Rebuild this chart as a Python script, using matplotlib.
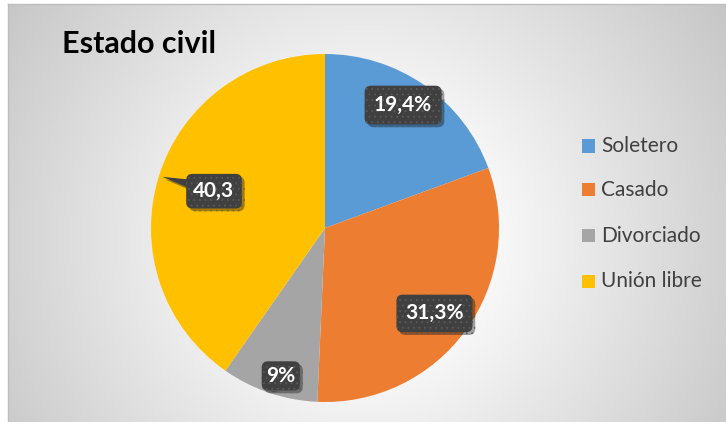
import numpy as np
import matplotlib
matplotlib.use("Agg")
import matplotlib.pyplot as plt
from matplotlib.patches import Rectangle, Polygon
import matplotlib.patheffects as pe

# ---- data ----
categories = ["Soletero", "Casado", "Divorciado", "Unión libre"]
values = [19.4, 31.3, 9.0, 40.3]
value_labels = ["19,4%", "31,3%", "9%", "40,3"]
colors = ["#5B9BD5", "#ED7D31", "#A5A5A5", "#FFC000"]
title = "Estado civil"

# ---- layout of the data labels (radius as fraction of pie, angle shift deg) ----
label_r = [0.837, 0.798, 0.887, 0.672]
label_dtheta = [2.5, -1.8, 2.1, -0.9]
label_pad = [0.45, 0.42, 0.22, 0.35]
# callout tails: (edge of box, start fraction, end fraction) or None
label_tail = [None, None, ("bottom", 0.16, 0.40), ("left", 0.60, 0.84)]

plt.rcParams["hatch.linewidth"] = 0.6

W, H, DPI = 726, 422, 100
fig = plt.figure(figsize=(W / DPI, H / DPI), dpi=DPI)
fig.patch.set_facecolor("white")

# chart-area background: radial grey gradient
bg = fig.add_axes([8 / W, 0, (W - 8) / W, (H - 4) / H], zorder=0)
yy, xx = np.mgrid[0:H - 4, 0:W - 8]
px = xx + 8
py = yy + 4
d = np.hypot(px - 363, py - 240) / 420.0
v = np.clip(270 - 70 * d, 0, 255) / 255.0
bg.imshow(np.dstack([v, v, v]), aspect="auto", interpolation="bilinear",
          extent=[0, 1, 0, 1], origin="upper")
bg.set_xticks([])
bg.set_yticks([])
for s in ("right", "bottom"):
    bg.spines[s].set_visible(False)
for s in ("top", "left"):
    bg.spines[s].set_color("#bdbdbd")
    bg.spines[s].set_linewidth(1.0)

# pie axes: centre (325, 228) px, radius 174 px
cx, cy, R = 325, 228, 174
ax = fig.add_axes([(cx - R) / W, (H - cy - R) / H, 2 * R / W, 2 * R / H], zorder=2)
ax.set_xlim(-1, 1)
ax.set_ylim(-1, 1)
ax.axis("off")
ax.patch.set_alpha(0)

wedges, _ = ax.pie(values, colors=colors, startangle=90, counterclock=False,
                   radius=1.0, wedgeprops=dict(linewidth=0))
ax.set_xlim(-1, 1)
ax.set_ylim(-1, 1)

font = "Lato"
box_face = "#404040"
shadow = [pe.SimplePatchShadow(offset=(2, -2), shadow_rgbFace="black", alpha=0.35),
          pe.Normal()]

texts = []
for i, w in enumerate(wedges):
    mid = np.deg2rad((w.theta1 + w.theta2) / 2 + label_dtheta[i])
    x, y = label_r[i] * np.cos(mid), label_r[i] * np.sin(mid)
    t = ax.text(x, y, value_labels[i], ha="center", va="center", color="white",
                fontsize=15, fontweight="bold", family=font, zorder=6,
                bbox=dict(boxstyle=f"round,pad={label_pad[i]},rounding_size=0.3",
                          facecolor=box_face, edgecolor="#5a5a5a", linewidth=0,
                          hatch="..."))
    t.get_bbox_patch().set_path_effects(shadow)
    texts.append(t)

fig.canvas.draw()
inv = ax.transData.inverted()
for i, w in enumerate(wedges):
    if label_tail[i] is None:
        continue
    edge, f0, f1 = label_tail[i]
    ext = texts[i].get_bbox_patch().get_window_extent()
    if edge == "left":
        p0 = (ext.x0 + 2, ext.y0 + f0 * ext.height)
        p1 = (ext.x0 + 2, ext.y0 + f1 * ext.height)
    else:
        p0 = (ext.x0 + f0 * ext.width, ext.y0 + 2)
        p1 = (ext.x0 + f1 * ext.width, ext.y0 + 2)
    mid = np.deg2rad((w.theta1 + w.theta2) / 2)
    tip = (0.98 * np.cos(mid), 0.98 * np.sin(mid))
    pts = [inv.transform(p0), inv.transform(p1), tip]
    tail = Polygon(pts, closed=True, facecolor=box_face, edgecolor="none", zorder=5)
    tail.set_path_effects(shadow)
    ax.add_patch(tail)

# title
fig.text(62 / W, 1 - 53 / H, title, ha="left", va="baseline", fontsize=22,
         fontweight="bold", family=font, color="#000000", zorder=10)

# legend
leg_y = [146, 190, 236, 281]
for i, name in enumerate(categories):
    fig.patches.append(Rectangle((582 / W, 1 - (leg_y[i] + 6.5) / H), 13 / W, 13 / H,
                                 transform=fig.transFigure, facecolor=colors[i],
                                 edgecolor="none", zorder=10))
    fig.text(601 / W, 1 - leg_y[i] / H, name, ha="left", va="center",
             fontsize=15, family=font, color="#404040", zorder=10)

fig.savefig("out.png", dpi=DPI, facecolor=fig.get_facecolor())
